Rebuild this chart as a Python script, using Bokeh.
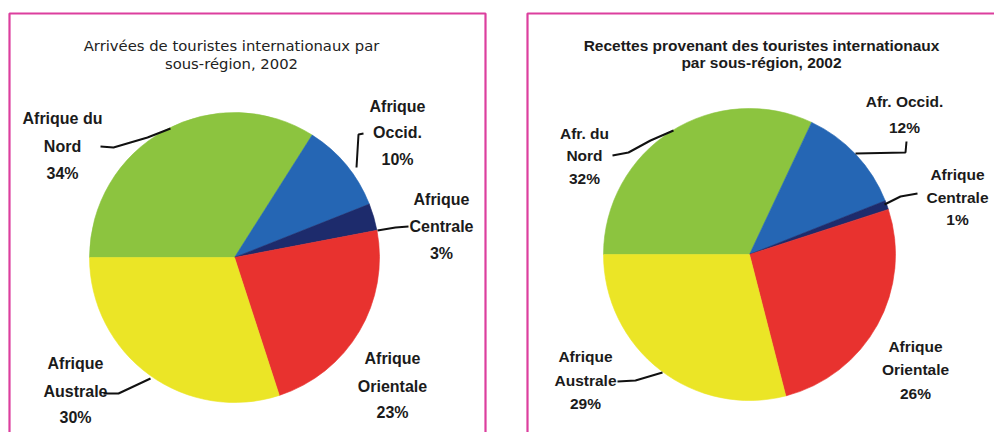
from bokeh.plotting import figure
from bokeh.models import Range1d
from bokeh.core.properties import value
from bokeh.embed import file_html
from bokeh.resources import INLINE
import numpy as np

# ---------------- data ----------------
regions = ["Afrique du Nord", "Afrique Occid.", "Afrique Centrale", "Afrique Orientale", "Afrique Australe"]
arrivals_pct = [34, 10, 3, 23, 30]          # Arrivées de touristes internationaux, 2002
receipts_pct = [32, 12, 1, 26, 29]          # Recettes, 2002
slice_colors = ["#8cc43f", "#2566b4", "#1d2b6c", "#e8322f", "#ebe526"]

title_left = ["Arrivées de touristes internationaux par", "sous-région, 2002"]
title_right = ["Recettes provenant des touristes internationaux", "par sous-région, 2002"]

label_names_left = [["Afrique du", "Nord"], ["Afrique", "Occid."], ["Afrique", "Centrale"],
                    ["Afrique", "Orientale"], ["Afrique", "Australe"]]
label_names_right = [["Afr. du", "Nord"], ["Afr. Occid."], ["Afrique", "Centrale"],
                     ["Afrique", "Orientale"], ["Afrique", "Australe"]]

# ---------------- layout (image pixel coords, y downward) ----------------
W, H = 994, 432


def Y(v):
    return H - np.asarray(v, dtype=float)


p = figure(width=W, height=H, x_range=Range1d(0, W), y_range=Range1d(0, H),
           output_backend="svg", toolbar_location=None,
           x_axis_type=None, y_axis_type=None, min_border=0)
p.grid.grid_line_color = None
p.outline_line_color = None
p.background_fill_color = "white"
p.border_fill_color = "white"

PINK = "#dc3f9e"
# panel frames (bottom / right edges fall outside the view)
p.line(x=[9, 9, 485, 485], y=Y([460, 13, 13, 460]), line_color=PINK, line_width=2.2)
p.line(x=[527, 527, 1010], y=Y([460, 13, 13]), line_color=PINK, line_width=2.2)

LABEL_FONT = value("Liberation Sans")


def pie(values, cx, cy, r):
    v = np.asarray(values, dtype=float)
    frac = v / v.sum()
    cum = np.cumsum(frac)
    # slices run clockwise starting from the 9 o'clock direction
    a_end = np.pi - (cum - frac) * 2 * np.pi
    a_start = np.pi - cum * 2 * np.pi
    p.wedge(x=cx, y=float(Y(cy)), radius=r, start_angle=list(a_start), end_angle=list(a_end),
            fill_color=slice_colors, line_color=slice_colors, line_width=0.6)


def labels(names, values, pos, fs):
    xs, ys, ts = [], [], []
    for nm, val, (x, yl) in zip(names, values, pos):
        lines = list(nm) + [f"{val}%"]
        for t, yy in zip(lines, yl):
            xs.append(x)
            ys.append(float(Y(yy)))
            ts.append(t)
    p.text(x=xs, y=ys, text=ts, text_align="center", text_baseline="middle",
           text_font=LABEL_FONT, text_font_size=fs, text_font_style="bold",
           text_color="#1b1b1b")


def leaders(lines):
    p.multi_line(xs=[[pt[0] for pt in ln] for ln in lines],
                 ys=[list(Y([pt[1] for pt in ln])) for ln in lines],
                 line_color="#111111", line_width=2)


# ---- left chart ----
pie(arrivals_pct, 234, 257, 145)
p.text(x=[231, 231], y=list(Y([45, 63])), text=title_left, text_align="center",
       text_baseline="middle", text_font=value("DejaVu Sans"), text_font_size="14.8px",
       text_color="#222222")
left_pos = [(62, [118, 146, 173]), (397, [106, 132, 159]), (441, [199, 226, 253]),
            (392, [358, 386, 412]), (75, [363, 391, 417])]
labels(label_names_left, arrivals_pct, left_pos, "16px")
leaders([[(100, 146), (113, 147), (147, 137), (170, 128)],
         [(363, 133), (358, 134), (356, 167)],
         [(377, 230), (395, 227), (408, 226)],
         [(103, 393), (118, 393), (150, 378)]])

# ---- right chart ----
pie(receipts_pct, 749, 254, 146)
p.text(x=[761, 761], y=list(Y([45, 62])), text=title_right, text_align="center",
       text_baseline="middle", text_font=LABEL_FONT, text_font_size="15.5px",
       text_font_style="bold", text_color="#1b1b1b")
right_pos = [(584, [133, 155, 178]), (904, [101, 127]), (957, [174, 197, 219]),
             (915, [346, 369, 393]), (585, [356, 380, 403])]
labels(label_names_right, receipts_pct, right_pos, "15.5px")
leaders([[(612, 155), (628, 152), (650, 140), (673, 130)],
         [(855, 153), (905, 152), (906, 141)],
         [(884, 204), (900, 196), (917, 193)],
         [(617, 381), (635, 380), (662, 372)]])

open("out.html", "w").write(file_html(p, INLINE))
